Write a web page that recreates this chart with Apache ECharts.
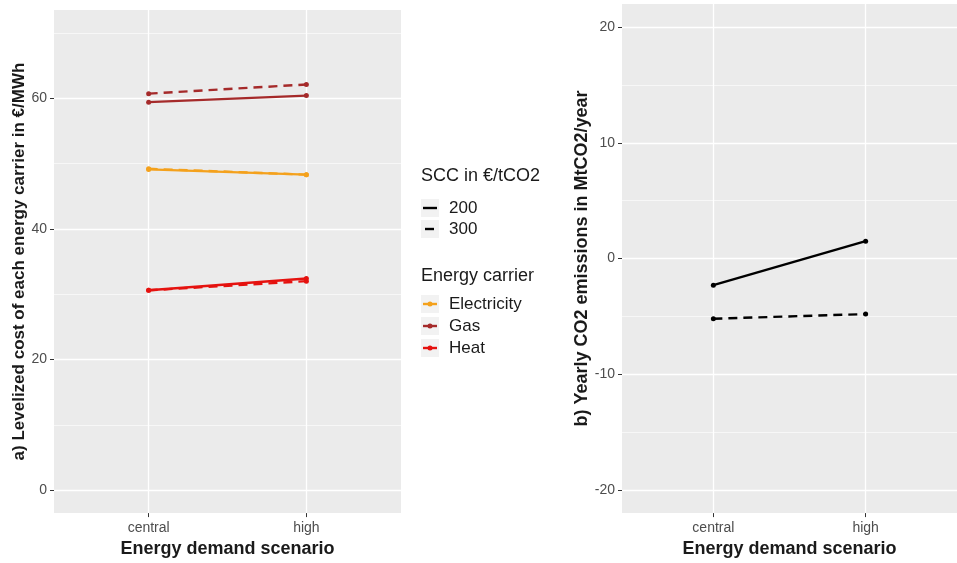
<!doctype html>
<html>
<head>
<meta charset="utf-8">
<title>Energy cost and emissions</title>
<script src="https://cdn.jsdelivr.net/npm/echarts@6/dist/echarts.min.js"></script>
<style>
  html, body { margin: 0; padding: 0; background: #fff; }
  #chart { width: 957px; height: 563px; }
</style>
</head>
<body>
<div id="chart"></div>
<script>
// data
var scenarios = ['central', 'high'];
var elec200 = [49.1, 48.3];
var elec300 = [49.2, 48.3];
var gas200 = [59.4, 60.4];
var gas300 = [60.7, 62.1];
var heat200 = [30.6, 32.4];
var heat300 = [30.6, 32.0];
var co2_200 = [-2.3, 1.5];
var co2_300 = [-5.2, -4.8];

var costTicks = [0, 20, 40, 60];
var costMinor = [10, 30, 50, 70];
var co2Ticks = [-20, -10, 0, 10, 20];
var co2Minor = [-15, -5, 5, 15];

var FONT = 'Liberation Sans, Arial, sans-serif';
var colElec = '#f4a11c';
var colGas = '#a52a2a';
var colHeat = '#e5120f';
var dash = [9, 6];

function pts(arr) {
  return arr.map(function (v, i) { return [i, v]; });
}

function xAxisFor(gi) {
  return {
    type: 'value', gridIndex: gi, min: -0.6, max: 1.6,
    axisLine: { show: false, onZero: false },
    axisTick: { show: true, customValues: [0, 1], length: 4, lineStyle: { color: '#333', width: 1 } },
    axisLabel: { customValues: [0, 1], formatter: function (v) { return scenarios[Math.round(v)]; },
      color: '#4d4d4d', fontSize: 14, fontFamily: FONT, margin: 8 },
    splitLine: { show: true, lineStyle: { color: '#fff', width: 1.3 } },
    name: 'Energy demand scenario', nameLocation: 'middle', nameGap: 26,
    nameTextStyle: { fontSize: 18, fontWeight: 'bold', color: '#1a1a1a', fontFamily: FONT }
  };
}

function yAxisFor(gi, min, max, ticks, title, gap, size) {
  return {
    type: 'value', gridIndex: gi, min: min, max: max,
    axisLine: { show: false, onZero: false },
    axisTick: { show: true, customValues: ticks, length: 4, lineStyle: { color: '#333', width: 1 } },
    axisLabel: { customValues: ticks, color: '#4d4d4d', fontSize: 14, fontFamily: FONT, margin: 7 },
    splitLine: { show: true, lineStyle: { color: '#fff', width: 1.3 } },
    name: title, nameLocation: 'middle', nameGap: gap,
    nameTextStyle: { fontSize: size, fontWeight: 'bold', color: '#1a1a1a', fontFamily: FONT }
  };
}

function minorAxis(gi, min, max, ticks) {
  return {
    type: 'value', gridIndex: gi, min: min, max: max, position: 'left',
    axisLine: { show: false, onZero: false },
    axisTick: { show: false, customValues: ticks },
    axisLabel: { show: false, customValues: ticks },
    splitLine: { show: true, lineStyle: { color: '#fff', width: 0.6 } }
  };
}

function line(name, data, color, dashed, xi, yi) {
  return {
    name: name, type: 'line', xAxisIndex: xi, yAxisIndex: yi, data: pts(data),
    symbol: 'circle', symbolSize: 5, showSymbol: true,
    itemStyle: { color: color },
    lineStyle: { color: color, width: 2.4, type: dashed ? dash : 'solid' },
    emphasis: { disabled: true }, animation: false, z: 3
  };
}

// legend keys drawn as graphic elements
var legendItems = [];
function keyBox(y) {
  legendItems.push({ type: 'rect', shape: { x: 421, y: y - 9, width: 18, height: 18 }, style: { fill: '#f2f2f2' } });
}
function addText(txt, x, y, size) {
  legendItems.push({ type: 'text', x: x, y: y, style: { text: txt, fill: '#1a1a1a', font: size + 'px ' + FONT, verticalAlign: 'middle' } });
}
addText('SCC in €/tCO2', 421, 176, 18);
keyBox(208);
legendItems.push({ type: 'line', shape: { x1: 423, y1: 208, x2: 437, y2: 208 }, style: { stroke: '#000', lineWidth: 2.4 } });
addText('200', 449, 208, 17);
keyBox(229);
legendItems.push({ type: 'line', shape: { x1: 425, y1: 229, x2: 434, y2: 229 }, style: { stroke: '#000', lineWidth: 2.4 } });
addText('300', 449, 229, 17);
addText('Energy carrier', 421, 276, 18);
[['Electricity', colElec, 304], ['Gas', colGas, 326], ['Heat', colHeat, 348]].forEach(function (k) {
  keyBox(k[2]);
  legendItems.push({ type: 'line', shape: { x1: 423, y1: k[2], x2: 437, y2: k[2] }, style: { stroke: k[1], lineWidth: 2.4 } });
  legendItems.push({ type: 'circle', shape: { cx: 430, cy: k[2], r: 2.5 }, style: { fill: k[1] } });
  addText(k[0], 449, k[2], 17);
});

var option = {
  backgroundColor: '#fff',
  animation: false,
  grid: [
    { left: 54, top: 10, width: 347, height: 509, show: true, backgroundColor: '#ebebeb', borderWidth: 0 },
    { left: 622, top: 4, width: 345, height: 514, show: true, backgroundColor: '#ebebeb', borderWidth: 0 }
  ],
  xAxis: [xAxisFor(0), xAxisFor(1)],
  yAxis: [
    yAxisFor(0, -3.5, 73.5, costTicks, 'a) Levelized cost of each energy carrier in €/MWh', 26, 17),
    minorAxis(0, -3.5, 73.5, costMinor),
    yAxisFor(1, -22, 22, co2Ticks, 'b) Yearly CO2 emissions in MtCO2/year', 31, 18),
    minorAxis(1, -22, 22, co2Minor)
  ],
  series: [
    line('Electricity 300', elec300, colElec, true, 0, 0),
    line('Gas 300', gas300, colGas, true, 0, 0),
    line('Heat 300', heat300, colHeat, true, 0, 0),
    line('Electricity 200', elec200, colElec, false, 0, 0),
    line('Gas 200', gas200, colGas, false, 0, 0),
    line('Heat 200', heat200, colHeat, false, 0, 0),
    line('CO2 200', co2_200, '#000', false, 1, 2),
    line('CO2 300', co2_300, '#000', true, 1, 2)
  ],
  graphic: legendItems
};

var myChart = echarts.init(document.getElementById('chart'));
myChart.setOption(option);
</script>
</body>
</html>
